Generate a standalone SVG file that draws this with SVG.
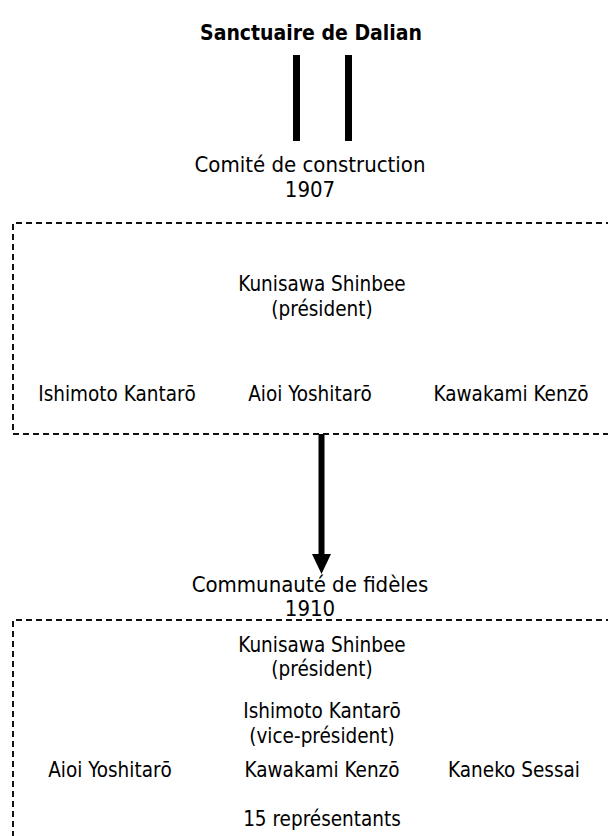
<svg xmlns="http://www.w3.org/2000/svg" width="608" height="836" viewBox="0 0 608 836">
<style>
text{font-family:"DejaVu Sans Condensed","DejaVu Sans","Liberation Sans",sans-serif;font-stretch:condensed;fill:#000;text-anchor:middle}
.title{font-size:21px;font-weight:bold}
.head{font-size:22px}
.name{font-size:20.5px}
.box{fill:none;stroke:#111;stroke-width:2;stroke-dasharray:6 4}
</style>
<g id="sanctuaire">
<text class="title" x="311" y="40">Sanctuaire de Dalian</text>
</g>
<g id="connectors">
<rect x="293" y="55" width="7" height="86" fill="#000"/>
<rect x="345" y="55" width="7" height="86" fill="#000"/>
<line x1="321.5" y1="434" x2="321.5" y2="556" stroke="#000" stroke-width="6"/>
<path d="M312,554 L331,554 L321.5,574 Z" fill="#000"/>
</g>
<g id="comite">
<text class="head" x="310" y="172">Comité de construction</text>
<text class="head" x="310" y="197">1907</text>
<path class="box" d="M612,223 H13 V434 H612"/>
<text class="name" x="322" y="291">Kunisawa Shinbee</text>
<text class="name" x="322" y="316">(président)</text>
<text class="name" x="117" y="401">Ishimoto Kantarō</text>
<text class="name" x="310" y="401">Aioi Yoshitarō</text>
<text class="name" x="511" y="401">Kawakami Kenzō</text>
</g>
<g id="communaute">
<text class="head" x="310" y="592">Communauté de fidèles</text>
<text class="head" x="310" y="616">1910</text>
<path class="box" d="M612,620 H13 V840"/>
<text class="name" x="322" y="652">Kunisawa Shinbee</text>
<text class="name" x="322" y="676">(président)</text>
<text class="name" x="322" y="718">Ishimoto Kantarō</text>
<text class="name" x="322" y="743">(vice-président)</text>
<text class="name" x="110" y="777">Aioi Yoshitarō</text>
<text class="name" x="322" y="777">Kawakami Kenzō</text>
<text class="name" x="514" y="777">Kaneko Sessai</text>
<text class="name" x="322" y="826">15 représentants</text>
</g>
</svg>
